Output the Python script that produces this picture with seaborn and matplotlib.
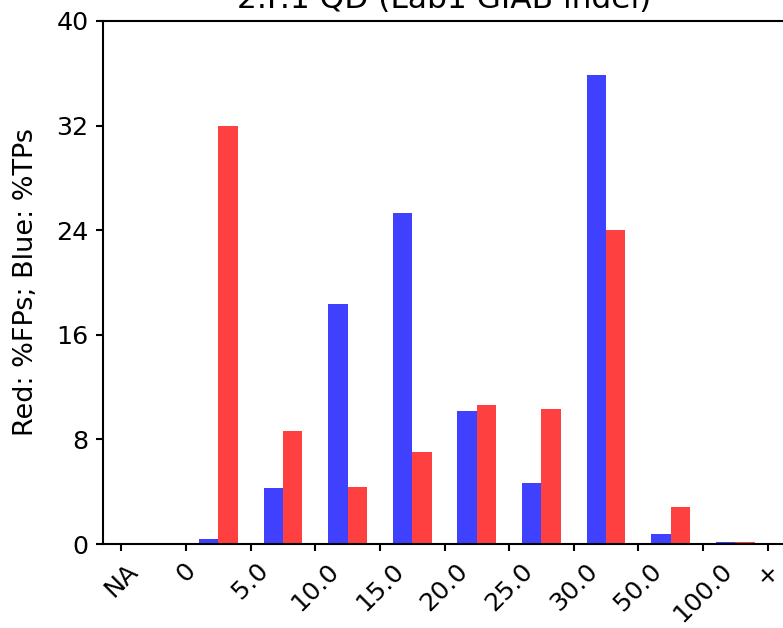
import matplotlib
matplotlib.use("Agg")
import matplotlib.pyplot as plt
import seaborn as sns
import pandas as pd

bins = ["NA-0", "0-5", "5-10", "10-15", "15-20", "20-25", "25-30", "30-50", "50-100", "100-+"]
tp_pct = [0.0, 0.38, 4.28, 18.35, 25.3, 10.17, 4.66, 35.86, 0.76, 0.15]
fp_pct = [0.0, 31.96, 8.64, 4.36, 7.03, 10.63, 10.32, 24.0, 2.83, 0.15]
tick_labels = ["NA", "0", "5.0", "10.0", "15.0", "20.0", "25.0", "30.0", "50.0", "100.0", "+"]
title = "2.F.1 QD (Lab1 GIAB indel)"

df = pd.DataFrame({
    "bin": bins * 2,
    "pct": tp_pct + fp_pct,
    "kind": ["TP"] * len(bins) + ["FP"] * len(bins),
})

sns.set_style("ticks")
plt.rcParams["font.family"] = ["DejaVu Sans"]
for k in ["text.color", "axes.labelcolor", "xtick.color", "ytick.color", "axes.edgecolor"]:
    plt.rcParams[k] = "black"

fig = plt.figure(figsize=(783 / 150, 628 / 150), dpi=150)
ax = fig.add_axes([103 / 783, 84 / 628, 683 / 783, 523 / 628])

sns.barplot(data=df, x="bin", y="pct", hue="kind", hue_order=["TP", "FP"],
            palette={"TP": (64 / 255, 64 / 255, 1.0), "FP": (1.0, 64 / 255, 64 / 255)},
            width=0.6, saturation=1, ax=ax, legend=False, errorbar=None,
            linewidth=0, edgecolor="none")

fs = 12.2
ax.set_xticks([i - 0.5 for i in range(len(tick_labels))])
ax.set_xticklabels(tick_labels, rotation=45, fontsize=fs)
ax.set_xlim(-0.5 - 0.286, len(bins) - 0.5 + 0.286)
ax.set_ylim(0, 40)
ax.set_yticks([0, 8, 16, 24, 32, 40])
ax.tick_params(axis="y", labelsize=fs)
ax.set_xlabel("")
ax.set_ylabel("Red: %FPs; Blue: %TPs", fontsize=13, labelpad=8)
ax.set_title(title, fontsize=15)
for s in ax.spines.values():
    s.set_visible(True)
    s.set_color("black")
    s.set_linewidth(1.0)
ax.tick_params(color="black", length=3.5, width=1.0)

fig.savefig("out.png", dpi=150)
